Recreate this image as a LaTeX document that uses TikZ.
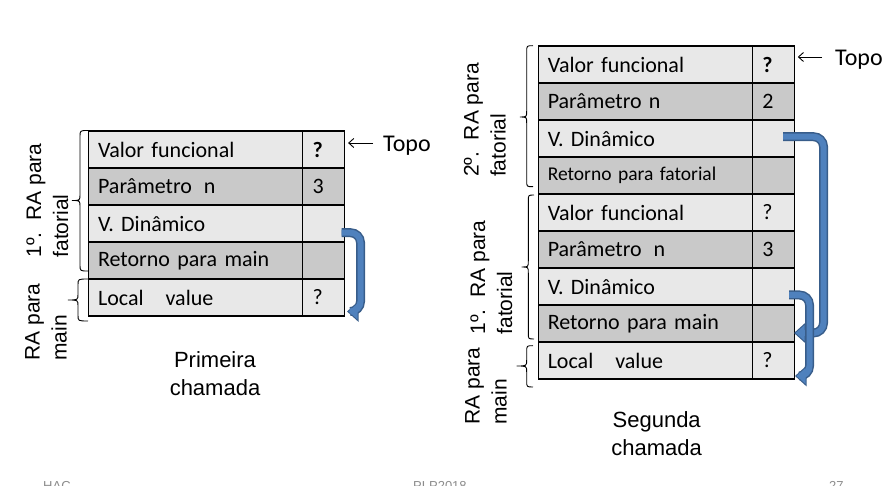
\documentclass[tikz,border=0pt]{standalone}
\usepackage{fontspec}
\setmainfont{Carlito}
\newfontfamily\arialf{Liberation Sans}
\usetikzlibrary{arrows.meta}
\definecolor{lightc}{HTML}{E8E8E8}
\definecolor{darkc}{HTML}{C9C9C9}
\definecolor{arrfill}{HTML}{4F81BD}
\definecolor{arrline}{HTML}{385D8A}
\definecolor{footc}{HTML}{8C8C8C}
\newcommand{\mybrace}[6]{% xe xl xt y1 ym y2
  \draw[bracestyle] (#1,#4) .. controls (#2,#4) .. (#2,#4+6) -- (#2,#5-6)
    .. controls (#2,#5) .. (#3,#5) .. controls (#2,#5) .. (#2,#5+6)
    -- (#2,#6-6) .. controls (#2,#6) .. (#1,#6);}
\newcommand{\bluearrow}[1]{\draw[arrout] #1; \draw[arrin] #1;}
\begin{document}
\begin{tikzpicture}[x=1pt,y=-1pt,
  cellbase/.style={draw=black, line width=1.1pt, anchor=north west,
    minimum height=37pt, align=left, inner ysep=0pt,
    font=\fontsize{22}{24}\selectfont},
  lbl/.style={cellbase, text width=195pt, inner xsep=9.5pt},
  val/.style={cellbase, text width=22pt, inner xsep=10pt},
  lt/.style={fill=lightc}, dk/.style={fill=darkc},
  small/.style={font=\fontsize{19.5}{22}\selectfont},
  rot/.style={rotate=90, align=left, inner sep=0pt,
    font=\arialf\fontsize{21}{27}\selectfont},
  capstyle/.style={align=center, inner sep=0pt, font=\arialf\fontsize{22}{28}\selectfont},
  topo/.style={anchor=west, inner sep=0pt, font=\fontsize{24}{26}\selectfont},
  topoarrow/.style={draw=black, line width=0.9pt, -{Straight Barb[length=5pt,width=9pt]}},
  bracestyle/.style={draw=black, line width=0.9pt},
  arrout/.style={draw=arrline, line width=9pt, rounded corners=10pt,
    -{Triangle[width=20pt,length=11.5pt]}},
  arrin/.style={draw=arrfill, line width=6pt, rounded corners=10pt,
    -{Triangle[width=15.5pt,length=9pt]}, shorten >=1.6pt},
  foot/.style={anchor=base west, inner sep=0pt, text=footc,
    font=\arialf\fontsize{13}{15}\selectfont}
]
\useasboundingbox (0,0) rectangle (895,486);
\clip (0,0) rectangle (895,486);

% ---------- left table (Primeira chamada)
\node[lbl,lt] (La) at (88,130.5) {Valor funcional};
\node[val,lt] (Va) at (302,130.5) {\textbf{?}};
\node[lbl,dk] (Lb) at (88,167.5) {Parâmetro\hspace{12pt}n};
\node[val,dk] (Vb) at (302,167.5) {3};
\node[lbl,lt] (Lc) at (88,204.5) {V. Dinâmico};
\node[val,lt] (Vc) at (302,204.5) {};
\node[lbl,dk] (Ld) at (88,241.5) {Retorno para main};
\node[val,dk] (Vd) at (302,241.5) {};
\node[lbl,lt] (Le) at (88,278.5) {Local\hspace{22pt}value};
\node[val,lt] (Ve) at (302,278.5) {?};

\node[topo] (topoA) at (383,145.5) {Topo};
\draw[topoarrow, shorten >=3pt] (topoA.west) ++(-10,-2.5) coordinate (tA) (tA) -- (Va.east |- tA);

\mybrace{88}{80}{72}{130.5}{200.5}{271}
\mybrace{88}{78}{68}{279}{300}{321}

\node[rot] (labA1) at (47.5,200.5) {1º.\ \ RA para\\fatorial};
\node[rot] (labA2) at (46,322) {RA para\\main};

\node[capstyle] (capA) at (215,374) {Primeira\\chamada};

\coordinate (a1s) at (341.5,232.7);
\coordinate (a1e) at (347,311.5);
\bluearrow{(a1s) -- (360.5,232.7) -- (360.5,311.5) -- (a1e)}

% ---------- right table (Segunda chamada)
\node[lbl,lt] (RLa) at (537.7,45.5) {Valor funcional};
\node[val,lt] (RVa) at (751.7,45.5) {\textbf{?}};
\node[lbl,dk] (RLb) at (537.7,82.5) {Parâmetro n};
\node[val,dk] (RVb) at (751.7,82.5) {2};
\node[lbl,lt] (RLc) at (537.7,119.5) {V. Dinâmico};
\node[val,lt] (RVc) at (751.7,119.5) {};
\node[lbl,dk,small] (RLd) at (537.7,156.5) {Retorno para fatorial};
\node[val,dk] (RVd) at (751.7,156.5) {};
\node[lbl,lt] (RLe) at (537.7,193.5) {Valor funcional};
\node[val,lt] (RVe) at (751.7,193.5) {?};
\node[lbl,dk] (RLf) at (537.7,230.5) {Parâmetro\hspace{12pt}n};
\node[val,dk] (RVf) at (751.7,230.5) {3};
\node[lbl,lt] (RLg) at (537.7,267.5) {V. Dinâmico};
\node[val,lt] (RVg) at (751.7,267.5) {};
\node[lbl,dk] (RLh) at (537.7,304.5) {Retorno para main};
\node[val,dk] (RVh) at (751.7,304.5) {};
\node[lbl,lt] (RLi) at (537.7,341.5) {Local\hspace{22pt}value};
\node[val,lt] (RVi) at (751.7,341.5) {?};

\node[topo] (topoB) at (835,59.5) {Topo};
\draw[topoarrow, shorten >=3pt] (topoB.west) ++(-13,-2.5) coordinate (tB) (tB) -- (RVa.east |- tB);

\mybrace{533}{526.7}{520}{45.7}{117}{186.7}
\mybrace{534}{528.3}{521.7}{195}{267}{339}
\mybrace{533}{526.7}{516.7}{345.7}{366}{387}

\node[rot] (labB1) at (485,120) {2º.\ \ RA para\\fatorial};
\node[rot] (labB2) at (491.5,277.5) {1º.\ \ RA para\\fatorial};
\node[rot] (labB3) at (486,386) {RA para\\main};

\node[capstyle] (capB) at (656.7,434) {Segunda\\chamada};

\coordinate (b1s) at (783,136.7);
\coordinate (b1e) at (794,333);
\bluearrow{(b1s) -- (823.5,136.7) -- (823.5,333) -- (b1e)}
\coordinate (b2s) at (789,295);
\coordinate (b2e) at (795,376);
\bluearrow{(b2s) -- (809.5,295) -- (809.5,376) -- (b2e)}

% ---------- footer (cut off by the page edge, as in the reference)
\node[foot] (f1) at (43,490) {HAC};
\node[foot] (f2) at (413,490) {PLP2018};
\node[foot] (f3) at (829,490) {27};
\end{tikzpicture}
\end{document}
